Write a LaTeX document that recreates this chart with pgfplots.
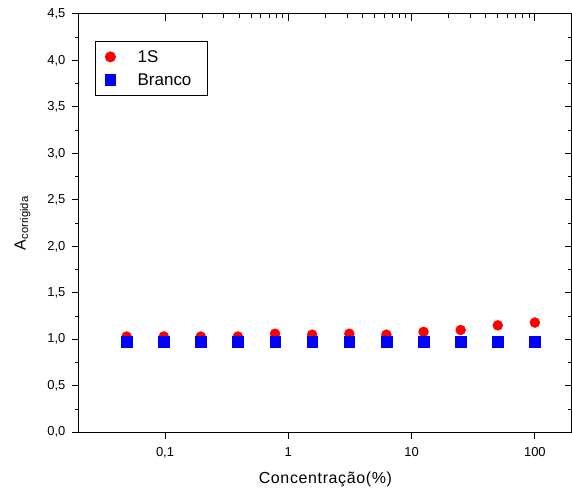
\documentclass[border=0pt]{standalone}
\usepackage{pgfplots}
\pgfplotsset{compat=1.18}
\usepackage{fontspec}
\setmainfont{Liberation Sans}
\begin{document}
\begin{tikzpicture}[x=1pt,y=1pt]
\begin{axis}[
  name=main,
  scale only axis,
  width=494pt, height=419pt,
  xmode=log, log basis x=10,
  xmin=0.02, xmax=200,
  ymin=0, ymax=4.5,
  ytick={0,0.5,...,4.5},
  minor y tick num=1,
  xtick={0.1,1,10,100},
  xticklabels={{0,1},1,10,100},
  tick align=outside,
  xtick pos=bottom, ytick pos=left,
  major tick length=7pt, minor tick length=4pt,
  tick style={black, line width=1pt},
  axis line style={line width=1pt},
  /pgf/number format/assume math mode=true,
  /pgf/number format/.cd, fixed, fixed zerofill, precision=1, use comma,
  /pgfplots/.cd,
  tick label style={font=\fontsize{13}{15}\selectfont},
  xticklabel style={yshift=-5pt},
  yticklabel style={xshift=-3pt},
  xlabel={Concentração(\%)},
  ylabel={A$_{\mathrm{corrigida}}$},
  label style={font=\fontsize{16}{18}\selectfont\addfontfeature{LetterSpace=4}},
  xlabel style={yshift=-7pt},
  ylabel style={yshift=10pt, font=\fontsize{16}{18}\selectfont},
  legend style={at={(0.032,0.936)}, anchor=north west, draw=black, line width=1pt,
    font=\fontsize{17}{19}\selectfont, inner xsep=10pt, inner ysep=7pt, row sep=6pt},
  legend cell align=left,
]
\addplot[only marks, mark=*, mark size=5pt, color=red, mark options={fill=red, draw=red}]
coordinates {(0.0488,1.03)(0.0977,1.03)(0.195,1.03)(0.39,1.03)(0.781,1.06)(1.5625,1.05)(3.125,1.06)(6.25,1.05)(12.5,1.08)(25,1.10)(50,1.15)(100,1.18)};
\addlegendentry{\hspace*{20pt}1S}
\addplot[only marks, mark=square*, mark size=5.3pt, color=blue, mark options={fill=blue, draw=blue}]
coordinates {(0.0488,0.975)(0.0977,0.975)(0.195,0.975)(0.39,0.975)(0.781,0.975)(1.5625,0.975)(3.125,0.975)(6.25,0.975)(12.5,0.975)(25,0.975)(50,0.975)(100,0.975)};
\addlegendentry{\hspace*{20pt}Branco\hspace*{4pt}}
\end{axis}
\begin{axis}[
  scale only axis,
  width=494pt, height=419pt,
  xmode=log,
  xmin=0.02, xmax=200,
  ymin=0, ymax=4.5,
  ytick={0,0.5,...,4.5},
  minor y tick num=1,
  xtick={0.1,1,10,100},
  xticklabels={}, yticklabels={},
  tick align=inside,
  xtick pos=top, ytick pos=right,
  major tick length=7pt, minor tick length=4pt,
  tick style={black, line width=1pt},
  axis line style={line width=1pt},
]
\addplot[draw=none] coordinates {(1,1)};
\end{axis}
\pgfresetboundingbox
\path[use as bounding box] ([xshift=-79pt,yshift=-63pt]main.south west) rectangle ([yshift=14pt]main.north east);
\end{tikzpicture}
\end{document}
